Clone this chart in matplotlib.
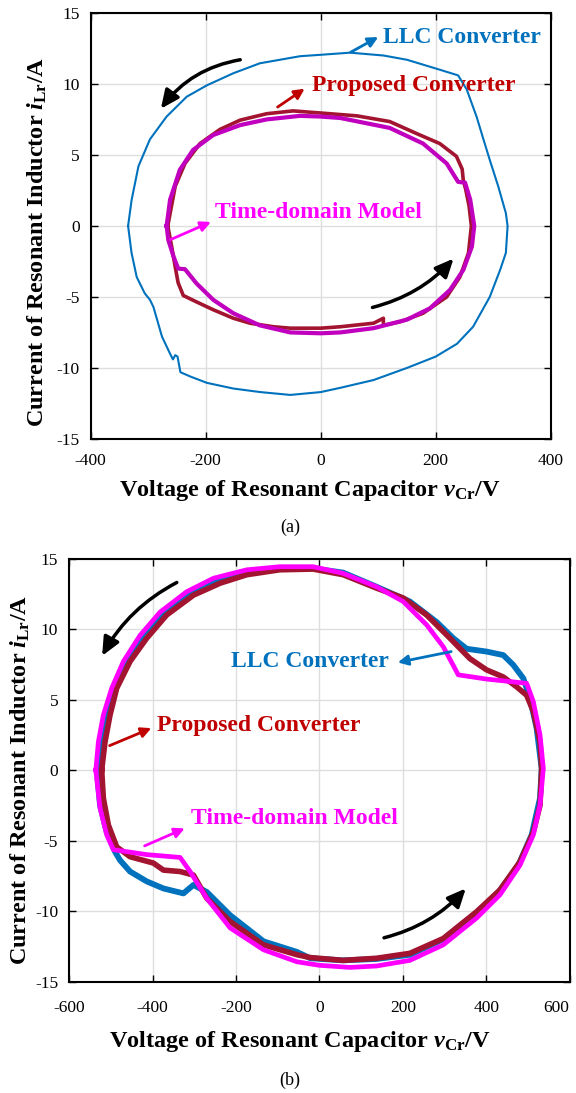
import matplotlib
matplotlib.use("Agg")
import matplotlib.pyplot as plt

plt.rcParams['font.family'] = ['Liberation Serif', 'DejaVu Serif']
plt.rcParams['mathtext.fontset'] = 'custom'
plt.rcParams['mathtext.rm'] = 'Liberation Serif:bold'
plt.rcParams['mathtext.bf'] = 'Liberation Serif:bold'
plt.rcParams['mathtext.it'] = 'Liberation Serif:italic:bold'
plt.rcParams['axes.unicode_minus'] = False

# ---------------- data: panel (a) ----------------
a_llc_v = [-335, -329, -317, -297, -268, -233, -198, -152, -106, -71, -36, 0, 51, 109, 150, 207, 239, 254, 271, 283,
           294, 309, 322, 325, 322, 312, 294, 265, 237, 200, 150, 92, 34, 0, -53, -105, -152, -198, -227, -244,
           -249, -253, -257, -262, -276, -291, -297, -306, -320, -329, -335]
a_llc_i = [0.0, 1.8, 4.2, 6.1, 7.7, 9.1, 9.9, 10.75, 11.45, 11.7, 11.95, 12.05, 12.2, 12.0, 11.7, 11.0, 10.6, 9.6, 7.7, 6.1,
           4.65, 2.75, 0.9, 0.0, -1.9, -3.1, -5.0, -7.1, -8.3, -9.2, -10.0, -10.85, -11.4, -11.7, -11.9, -11.7, -11.45, -11.05, -10.6, -10.3,
           -9.2, -9.1, -9.4, -9.0, -7.8, -5.7, -5.2, -4.75, -3.6, -1.9, 0.0]

a_prop_v = [-266, -253, -236, -210, -175, -140, -94, -48, 0, 63, 120, 167, 207, 236, 246, 248, 252, 258, 262,
            257, 242, 219, 178, 138, 109, 109, 92, 34, 0, -53, -82, -123, -152, -187, -216, -239, -248, -253, -259, -266]
a_prop_i = [0.0, 2.8, 4.4, 5.8, 6.8, 7.45, 7.9, 8.1, 7.95, 7.75, 7.35, 6.5, 5.8, 4.9, 4.0, 3.2, 2.6, 1.4, 0.0,
            -1.9, -3.6, -5.0, -6.15, -6.75, -7.0, -6.5, -6.85, -7.1, -7.2, -7.2, -7.1, -6.85, -6.5, -5.9, -5.35, -4.9, -4.0, -2.9, -1.5, 0.0]

a_model_v = [-268, -262, -245, -222, -187, -140, -94, -36, 0, 34, 120, 178, 219, 239, 251, 260, 267, 263, 248, 225,
             190, 150, 92, 34, 0, -53, -106, -152, -187, -216, -236, -248, -256, -265, -268]
a_model_i = [0.0, 1.85, 3.95, 5.35, 6.4, 7.1, 7.5, 7.75, 7.7, 7.6, 6.9, 5.8, 4.4, 3.1, 3.05, 1.85, 0.0, -1.45, -3.1, -4.5,
             -5.8, -6.6, -7.2, -7.5, -7.56, -7.5, -7.0, -6.15, -5.2, -4.05, -3.05, -3.0, -2.15, -1.0, 0.0]

# ---------------- data: panel (b) ----------------
b_llc_v = [-530, -526, -512, -492, -462, -422, -374, -310, -246, -174, -94, -15, 57, 137, 217, 281, 321, 353, 401, 441,
           465, 489, 505, 521, 533, 529, 509, 477, 425, 369, 297, 217, 137, 57, -22, -54, -134, -214, -270, -302,
           -326, -374, -414, -454, -478, -490, -510, -526, -532, -530]
b_llc_i = [0.0, 2.0, 4.0, 6.0, 7.7, 9.45, 11.1, 12.5, 13.4, 14.0, 14.3, 14.3, 14.0, 13.0, 11.95, 10.5, 9.35, 8.6, 8.4, 8.15,
           7.45, 6.5, 5.1, 2.95, 0.1, -2.0, -4.6, -6.75, -8.85, -10.3, -12.0, -13.1, -13.4, -13.5, -13.35, -12.9, -12.15, -10.3, -8.65, -8.15,
           -8.75, -8.4, -7.9, -7.2, -6.4, -5.8, -4.4, -2.5, -0.6, 0.0]

b_prop_v = [-522, -514, -502, -486, -454, -414, -366, -302, -238, -174, -95, -15, 57, 137, 201, 257, 313, 361, 401, 441,
            473, 497, 513, 529, 533, 529, 513, 481, 433, 377, 297, 217, 137, 57, -22, -54, -134, -214, -270, -302,
            -334, -374, -398, -454, -486, -506, -518, -522]
b_prop_i = [0.0, 2.0, 3.9, 5.8, 7.7, 9.35, 11.0, 12.4, 13.25, 13.85, 14.2, 14.25, 13.85, 12.9, 12.2, 11.0, 9.35, 7.9, 7.1, 6.6,
            5.9, 5.3, 4.15, 2.0, 0.1, -2.5, -4.4, -6.5, -8.5, -10.05, -11.95, -13.0, -13.35, -13.5, -13.3, -13.1, -12.4, -10.75, -9.1, -7.45,
            -7.2, -7.1, -6.6, -6.15, -5.45, -3.9, -2.0, 0.0]

b_model_v = [-536, -530, -518, -498, -470, -430, -382, -318, -254, -174, -95, -15, 57, 137, 201, 257, 297, 333, 401, 497,
             513, 529, 537, 529, 513, 481, 433, 377, 297, 217, 137, 73, 0, -54, -134, -214, -270, -310, -334, -414,
             -494, -510, -526, -534, -536]
b_model_i = [0.0, 2.0, 3.9, 5.8, 7.7, 9.55, 11.2, 12.65, 13.6, 14.2, 14.42, 14.42, 13.95, 13.0, 11.95, 10.3, 8.75, 6.75, 6.45, 6.15,
             4.85, 2.5, 0.1, -2.5, -4.6, -6.75, -8.85, -10.5, -12.4, -13.5, -13.9, -14.0, -13.85, -13.6, -12.75, -11.2, -9.1, -7.2, -6.2, -6.0,
             -5.65, -4.6, -2.7, -0.6, 0.0]

a_xticks = [-400, -200, 0, 200, 400]
b_xticks = [-600, -400, -200, 0, 200, 400, 600]
yticks = [-15, -10, -5, 0, 5, 10, 15]

C_BLUE = '#0072BD'
C_RED = '#A2142F'
C_RED_TXT = '#C00000'
C_MAG = '#FF00FF'
C_MAG_A = '#C000BE'

fig = plt.figure(figsize=(5.76, 10.93), dpi=100)
ax1 = fig.add_axes([0.1575, 0.5984, 0.7986, 0.3898])
ax2 = fig.add_axes([0.1201, 0.1020, 0.8688, 0.3870])


def style(ax, xt, xlim, xpad):
    ax.set_xlim(*xlim)
    ax.set_ylim(-15, 15)
    ax.set_xticks(xt)
    ax.set_yticks(yticks)
    ax.grid(True, color='#DEDEDE', lw=1.0)
    ax.set_axisbelow(True)
    ax.tick_params(direction='in', top=True, right=True, length=5, width=1,
                   labelsize=12.5, pad=8)
    ax.tick_params(axis='x', pad=xpad)
    for s in ax.spines.values():
        s.set_linewidth(1.5)


def arrow(ax, tail, head, color, lw=2.0, hl=0.6, hw=0.3, rad=0.0):
    ax.annotate('', xy=head, xytext=tail,
                arrowprops=dict(arrowstyle='-|>,head_length=%g,head_width=%g' % (hl, hw),
                                color=color, lw=lw, shrinkA=0, shrinkB=0,
                                connectionstyle='arc3,rad=%g' % rad))


# ---------- panel (a) ----------
style(ax1, a_xticks, (-400, 400), 10)
ax1.plot(a_llc_v, a_llc_i, color=C_BLUE, lw=1.5)
ax1.plot(a_prop_v, a_prop_i, color=C_RED, lw=2.6)
ax1.plot(a_model_v, a_model_i, color=C_MAG_A, lw=3.0)

ax1.text(108, 13.3, 'LLC Converter', color=C_BLUE, fontsize=17, fontweight='bold', ha='left', va='center')
ax1.text(-16, 9.9, 'Proposed Converter', color=C_RED_TXT, fontsize=17, fontweight='bold', ha='left', va='center')
ax1.text(-183, 0.94, 'Time-domain Model', color=C_MAG, fontsize=17, fontweight='bold', ha='left', va='center')
arrow(ax1, (52, 12.23), (100, 13.3), C_BLUE)
arrow(ax1, (-75, 8.37), (-28, 9.66), C_RED_TXT)
arrow(ax1, (-261, -0.96), (-191, 0.28), C_MAG)
arrow(ax1, (-140, 11.7), (-278, 8.25), 'black', lw=2.5, hl=1.1, hw=0.5, rad=0.2)
arrow(ax1, (90, -5.74), (231, -2.3), 'black', lw=2.5, hl=1.1, hw=0.5, rad=0.15)

ax1.text(0.4765, -0.12, r'Voltage of Resonant Capacitor $\mathit{v}_{\mathrm{Cr}}$/V',
         transform=ax1.transAxes, ha='center', va='center', fontsize=17.5, fontweight='bold')
ax1.text(-0.117, 0.463, r'Current of Resonant Inductor $\mathit{i}_{\mathrm{Lr}}$/A',
         transform=ax1.transAxes, ha='center', va='center', rotation=90, fontsize=17.5, fontweight='bold')

# ---------- panel (b) ----------
style(ax2, b_xticks, (-600, 600), 13)
ax2.plot(b_llc_v, b_llc_i, color=C_BLUE, lw=4.2)
ax2.plot(b_prop_v, b_prop_i, color=C_RED, lw=4.0)
ax2.plot(b_model_v, b_model_i, color=C_MAG, lw=3.4)
xl = ax2.get_xticklabels()
xl[-1].set_horizontalalignment('right')
xl[-1].set_x(xl[-1].get_position()[0])

ax2.text(-212, 7.68, 'LLC Converter', color=C_BLUE, fontsize=17, fontweight='bold', ha='left', va='center')
ax2.text(-390, 3.15, 'Proposed Converter', color=C_RED_TXT, fontsize=17, fontweight='bold', ha='left', va='center')
ax2.text(-309, -3.44, 'Time-domain Model', color=C_MAG, fontsize=17, fontweight='bold', ha='left', va='center')
arrow(ax2, (316, 8.4), (188, 7.63), C_BLUE)
arrow(ax2, (-503, 1.73), (-403, 2.97), C_RED_TXT)
arrow(ax2, (-419, -5.38), (-323, -4.14), C_MAG)
arrow(ax2, (-342, 13.3), (-521, 8.1), 'black', lw=2.5, hl=1.1, hw=0.5, rad=0.15)
arrow(ax2, (155, -11.9), (351, -8.4), 'black', lw=2.5, hl=1.1, hw=0.5, rad=0.15)

ax2.text(0.461, -0.142, r'Voltage of Resonant Capacitor $\mathit{v}_{\mathrm{Cr}}$/V',
         transform=ax2.transAxes, ha='center', va='center', fontsize=17.5, fontweight='bold')
ax2.text(-0.098, 0.477, r'Current of Resonant Inductor $\mathit{i}_{\mathrm{Lr}}$/A',
         transform=ax2.transAxes, ha='center', va='center', rotation=90, fontsize=17.5, fontweight='bold')

fig.text(290 / 576, 1 - 527 / 1093, '(a)', ha='center', va='center', fontsize=13)
fig.text(290 / 576, 1 - 1080 / 1093, '(b)', ha='center', va='center', fontsize=13)

fig.savefig('out.png', dpi=100)
